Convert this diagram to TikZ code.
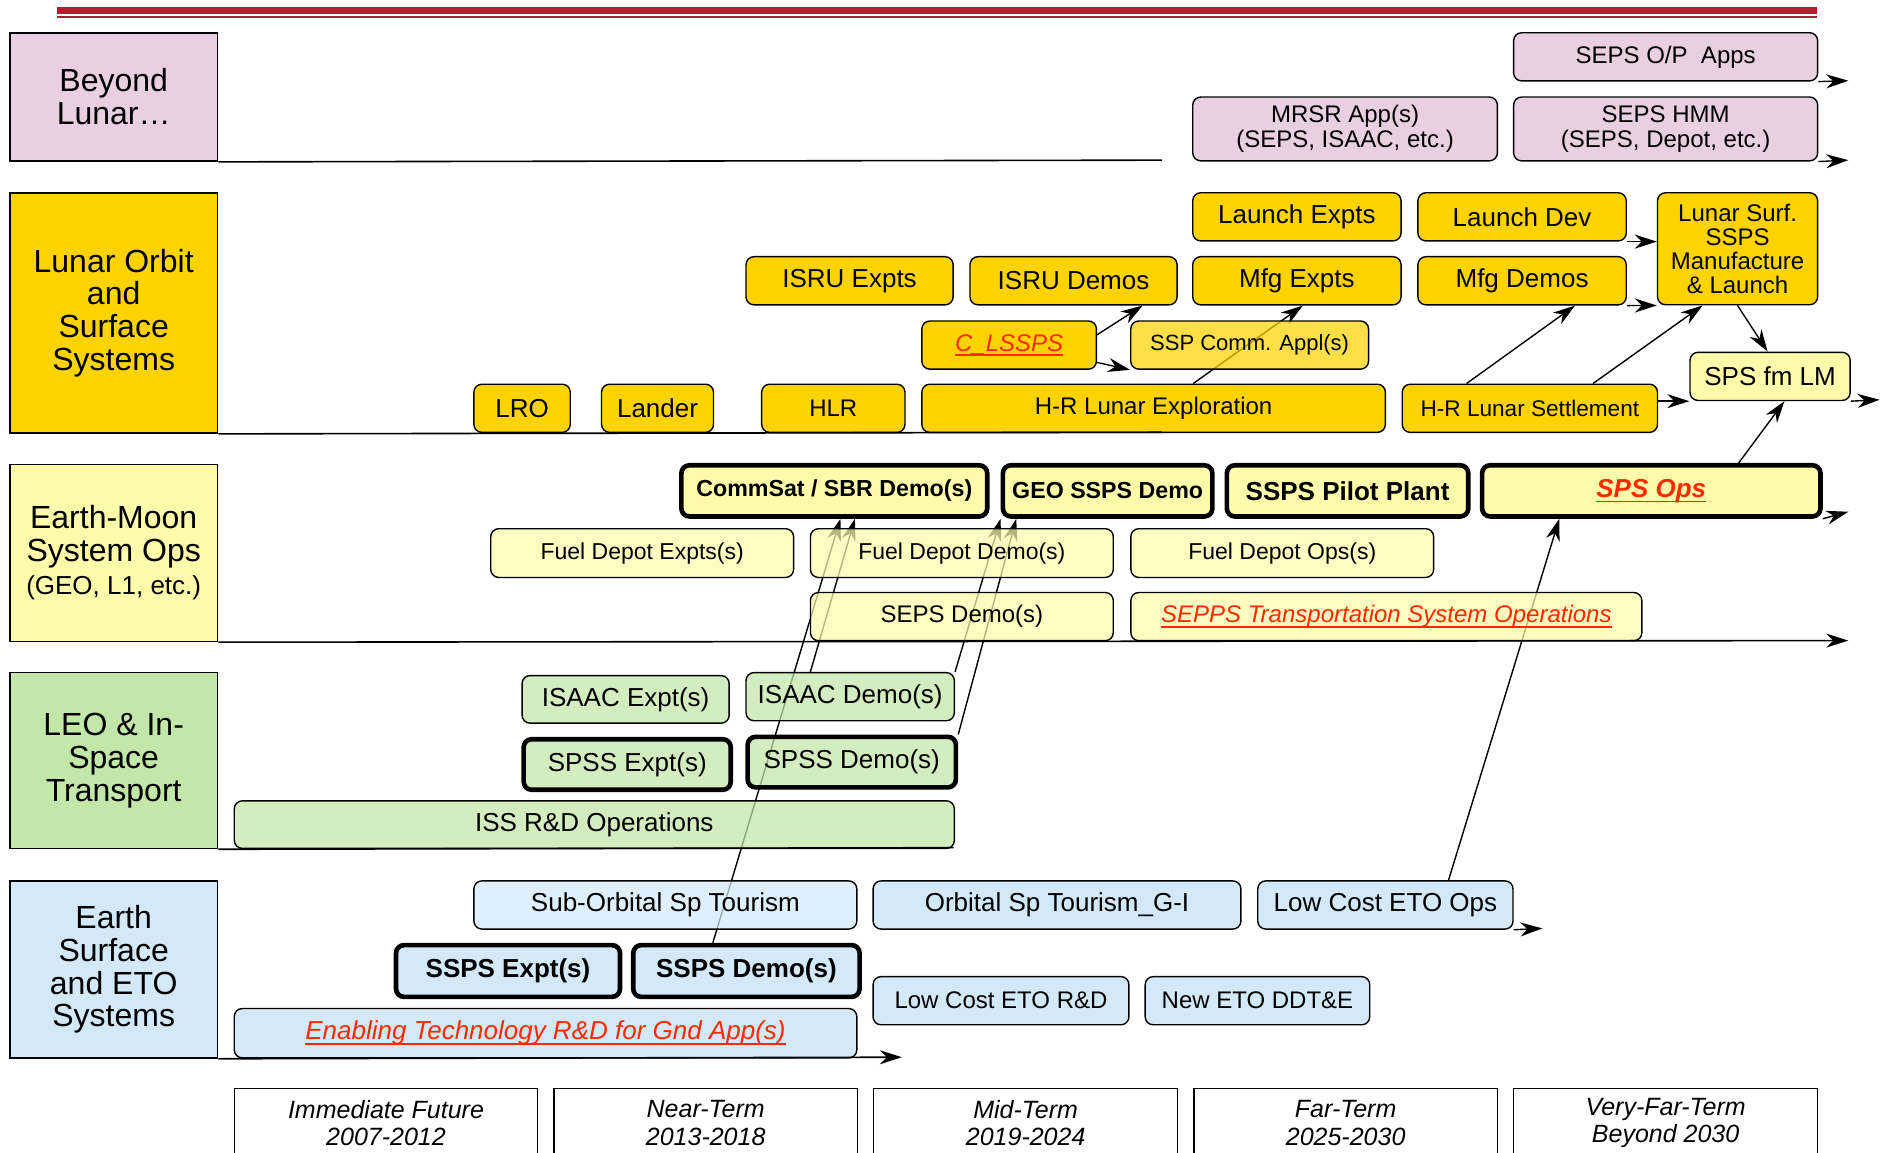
\documentclass[tikz,border=0pt]{standalone}
\usepackage{fontspec}
\setmainfont{Liberation Sans}
\usetikzlibrary{arrows.meta}
\definecolor{bePink}{HTML}{E8CFE1}
\definecolor{loGold}{HTML}{FFD300}
\definecolor{emYellow}{HTML}{FFFBAA}
\definecolor{leoGreen}{HTML}{C3E6A9}
\definecolor{esBlue}{HTML}{D3E9FA}
\definecolor{redText}{HTML}{FF2A00}
\definecolor{barRed}{HTML}{B41B2D}
\newcommand{\pxu}{0.602pt}
\newcommand{\redul}[1]{\textcolor{redText}{\itshape\setbox0\hbox{#1}\rlap{\copy0}\rule[-2.4pt]{\wd0}{0.7pt}}}
\pgfdeclarelayer{bg}
\pgfsetlayers{bg,main}
\tikzset{
  wh/.style 2 args={minimum width=#1*\pxu, minimum height=#2*\pxu},
  box/.style={draw, rounded corners=4pt, line width=0.7pt, inner sep=1pt,
    align=center, anchor=north west, font=\fontsize{13}{14}\selectfont},
  pinkbox/.style={box, fill=bePink, font=\fontsize{12}{12.2}\selectfont},
  goldbox/.style={box, fill=loGold},
  ylwbox/.style={box, fill=emYellow},
  bluebox/.style={box, fill=esBlue},
  chk/.style={box, fill=#1, fill opacity=0.72, text opacity=1},
  heavy/.style={line width=2.3pt},
  catbox/.style={draw, line width=0.8pt, anchor=north west, align=center,
    inner sep=0pt, font=\fontsize{16}{16.4}\selectfont},
  termbox/.style={draw, line width=0.7pt, anchor=north west, align=center,
    inner sep=0pt, font=\fontsize{12.5}{13.8}\selectfont\itshape},
  lane/.style={line width=0.8pt},
  arr/.style={-{Stealth[length=11pt, width=7pt, inset=3.5pt]}, line width=0.7pt},
}

\begin{document}
\begin{tikzpicture}[x=\pxu, y=-\pxu]
  \useasboundingbox (0,0) rectangle (1568,957);
  \begin{pgfonlayer}{bg}
    \fill[white] (0,0) rectangle (1568,957);
  \end{pgfonlayer}

  % Title bars
  \draw[barRed, line width=3.3pt] (47,8.9) -- (1509,8.9);
  \draw[barRed, line width=0.9pt] (47,14.4) -- (1509,14.4);

  % Category column
  \node[catbox, fill=bePink, wh={172.5}{106.5}] (cbl) at (7.5,26.6) {Beyond\\Lunar…};
  \node[catbox, fill=loGold, wh={172.5}{199.5}] (clo) at (7.5,159.5) {Lunar Orbit\\and\\Surface\\Systems};
  \node[catbox, fill=emYellow, wh={172.5}{147}] (cem) at (7.5,385)
    {Earth-Moon\\System Ops\\{\fontsize{13}{14}\selectfont (GEO, L1, etc.)}};
  \node[catbox, fill=leoGreen, wh={172.5}{146}] (cleo) at (7.5,558) {LEO \& In-\\Space\\Transport};
  \node[catbox, fill=esBlue, wh={172.5}{147}] (ces) at (7.5,731) {Earth\\Surface\\and ETO\\Systems};

  % Beyond lunar
  \node[pinkbox, wh={252.5}{40}] (sepsop) at (1256.5,26.6) {SEPS O/P\ \ Apps};
  \node[pinkbox, wh={253}{53}] (mrsr) at (990,80) {MRSR App(s)\\(SEPS, ISAAC, etc.)};
  \node[pinkbox, wh={252.5}{53}] (sepshmm) at (1256.5,80) {SEPS HMM\\(SEPS, Depot, etc.)};

  % Lunar orbit and surface
  \node[goldbox, wh={173}{40}] (lexp) at (990,159.5) {Launch Expts};
  \node[goldbox, wh={173}{40}] (ldev) at (1177,159.5) {Launch Dev};
  \node[goldbox, wh={133}{93}, font=\fontsize{12}{12}\selectfont] (lsurf) at (1376,159.5)
    {Lunar Surf.\\SSPS\\Manufacture\\\& Launch};
  \node[goldbox, wh={172}{40}] (isrue) at (619,212.6) {ISRU Expts};
  \node[goldbox, wh={172}{40}] (isrud) at (805,212.6) {ISRU Demos};
  \node[goldbox, wh={173}{40}] (mfge) at (990,212.6) {Mfg Expts};
  \node[goldbox, wh={173}{40}] (mfgd) at (1177,212.6) {Mfg Demos};
  \node[goldbox, wh={145}{40}, font=\fontsize{12}{13}\selectfont] (clssps) at (765,266) {\redul{C\_LSSPS}};
  \node[chk=loGold, wh={197.5}{40}, font=\fontsize{11}{12}\selectfont] (sspc) at (938.5,266) {SSP Comm. Appl(s)};
  \node[goldbox, wh={80}{40}] (lro) at (393,318.5) {LRO};
  \node[goldbox, wh={93}{40}] (lander) at (499,318.5) {Lander};
  \node[goldbox, wh={119}{40}, font=\fontsize{12}{13}\selectfont] (hlr) at (632,318.5) {HLR};
  \node[goldbox, wh={385}{40}, font=\fontsize{12}{13}\selectfont] (hrle) at (765,318.5) {H-R Lunar Exploration};
  \node[goldbox, wh={212}{40}, font=\fontsize{11.3}{12}\selectfont] (hrls) at (1164,318.5) {H-R Lunar Settlement};
  \node[ylwbox, wh={133}{40}] (spsfm) at (1403,292) {SPS fm LM};

  % Earth-Moon system ops
  \node[ylwbox, heavy, wh={254}{42.5}, font=\fontsize{11.6}{12}\selectfont\bfseries] (commsat) at (564,384.5) {CommSat / SBR Demo(s)};
  \node[ylwbox, heavy, wh={174}{42.5}, font=\fontsize{11.6}{12}\selectfont\bfseries] (geo) at (831,384.5) {GEO SSPS Demo};
  \node[ylwbox, heavy, wh={200.5}{42.5}, font=\fontsize{13}{14}\selectfont\bfseries] (pilot) at (1017,384.5) {SSPS Pilot Plant};
  \node[ylwbox, heavy, wh={281}{42.5}] (spsops) at (1229,384.5) {\redul{\textbf{SPS Ops}}};
  \node[chk=emYellow, wh={251.5}{40.5}, font=\fontsize{11.5}{12}\selectfont] (fde) at (407,438.5) {Fuel Depot Expts(s)};
  \node[chk=emYellow, wh={251.5}{40.5}, font=\fontsize{11.5}{12}\selectfont] (fdd) at (672.5,438.5) {Fuel Depot Demo(s)};
  \node[chk=emYellow, wh={251.5}{40.5}, font=\fontsize{11.5}{12}\selectfont] (fdo) at (938.6,438.5) {Fuel Depot Ops(s)};
  \node[chk=emYellow, wh={251.5}{40}, font=\fontsize{12}{13}\selectfont] (sepsd) at (672.5,491.5) {SEPS Demo(s)};
  \node[chk=emYellow, wh={424.4}{40}, font=\fontsize{12}{13}\selectfont] (sepps) at (938.6,491.5)
    {\redul{SEPPS Transportation System Operations}};

  % LEO and in-space transport
  \node[chk=leoGreen, wh={172}{39.5}] (isaace) at (433,560.5) {ISAAC Expt(s)};
  \node[chk=leoGreen, wh={173}{40}] (isaacd) at (619,558) {ISAAC Demo(s)};
  \node[chk=leoGreen, heavy, wh={172}{42}] (spsse) at (433,612) {SPSS Expt(s)};
  \node[chk=leoGreen, heavy, wh={173}{42}] (spssd) at (619,610) {SPSS Demo(s)};
  \node[chk=leoGreen, wh={598}{39.5}] (issrd) at (194,664.5) {ISS R\&D Operations};

  % Earth surface and ETO
  \node[chk=esBlue, wh={318}{40}] (subo) at (393,731) {Sub-Orbital Sp Tourism};
  \node[bluebox, wh={305.5}{40}] (orbt) at (724.5,731) {Orbital Sp Tourism\_G-I};
  \node[bluebox, wh={212}{40}] (lceto) at (1044,731) {Low Cost ETO Ops};
  \node[bluebox, heavy, wh={186}{43}, font=\fontsize{13}{14}\selectfont\bfseries] (sspse) at (327,783) {SSPS Expt(s)};
  \node[bluebox, heavy, wh={188}{43}, font=\fontsize{13}{14}\selectfont\bfseries] (sspsd) at (524,783) {SSPS Demo(s)};
  \node[bluebox, wh={212.5}{40}, font=\fontsize{12}{13}\selectfont] (lcrd) at (724.5,810.5) {Low Cost ETO R\&D};
  \node[bluebox, wh={186.5}{40}, font=\fontsize{12}{13}\selectfont] (neweto) at (950.5,810.5) {New ETO DDT\&E};
  \node[bluebox, wh={517}{41}] (enab) at (194,837) {\redul{Enabling Technology R\&D for Gnd App(s)}};

  % Time frames
  \node[termbox, wh={252}{57}] (t1) at (194,903.6) {Immediate Future\\2007-2012};
  \node[termbox, wh={252}{57}] (t2) at (459.5,903.6) {Near-Term\\2013-2018};
  \node[termbox, wh={252.5}{57}] (t3) at (725,903.6) {Mid-Term\\2019-2024};
  \node[termbox, wh={252}{57}] (t4) at (991,903.6) {Far-Term\\2025-2030};
  \node[termbox, wh={252.5}{57}] (t5) at (1256.5,903.6) {Very-Far-Term\\Beyond 2030};

  % Lane ends
  \coordinate (blEnd) at (965,133);
  \coordinate (loEnd) at (965,359);
  \coordinate (emEnd) at (1535,532);
  \coordinate (leoEnd) at (792,704);
  \coordinate (esEnd) at (749,878);
  \coordinate (opEnd) at (1535,67);
  \coordinate (hmmEnd) at (1535,133);
  \coordinate (fmEnd) at (1561,332);
  \coordinate (opsEnd) at (1535,425);
  \coordinate (etoEnd) at (1281,771);

  % Lanes
  \draw[lane] (cbl.south east) -- (blEnd);
  \draw[lane] (clo.south east) -- (loEnd);
  \draw[lane, arr, line width=0.8pt] (cem.south east) -- (emEnd);
  \draw[lane] (cleo.south east) -- (leoEnd);
  \draw[lane, arr, line width=0.8pt] (ces.south east) -- (esEnd);

  % Connectors
  \begin{pgfonlayer}{bg}
    \draw[arr] (sepsop.south east) -- (opEnd);
    \draw[arr] (sepshmm.south east) -- (hmmEnd);
    \draw[arr] (clssps.east |- 0,278) -- (isrud.south -| 949,0);
    \draw[arr] (clssps.east |- 0,301) -- (sspc.south west);
    \draw[arr] (hrle.north -| 991,0) -- (mfge.south -| 1082,0);
    \draw[arr] (ldev.south east) -- (lsurf.west |- ldev.south);
    \draw[arr] (mfgd.south east) -- (lsurf.south west);
    \draw[arr] (hrls.north -| 1218,0) -- (mfgd.south -| 1308,0);
    \draw[arr] (hrls.north -| 1323,0) -- (lsurf.south -| 1414,0);
    \draw[arr] (lsurf.south -| 1443,0) -- (spsfm.north -| 1468,0);
    \draw[arr] (hrls.east |- spsfm.south) -- (spsfm.south west);
    \draw[arr] (spsfm.south east) -- (fmEnd);
    \draw[arr] (spsops.north -| 1444,0) -- (spsfm.south -| 1482,0);
    \draw[arr] (spsops.south east) -- (opsEnd);
    \draw[arr] (lceto.north -| 1203,0) -- (spsops.south -| 1295,0);
    \draw[arr] (lceto.south east) -- (etoEnd);
    \draw[arr] (sspsd.north -| 592,0) -- (commsat.south -| 698,0);
    \draw[arr] (isaacd.north -| 673,0) -- (commsat.south -| 710,0);
    \draw[arr] (isaacd.north east) -- (geo.south west);
    \draw[arr] (spssd.north east) -- (geo.south -| 844,0);
  \end{pgfonlayer}
\end{tikzpicture}
\end{document}
